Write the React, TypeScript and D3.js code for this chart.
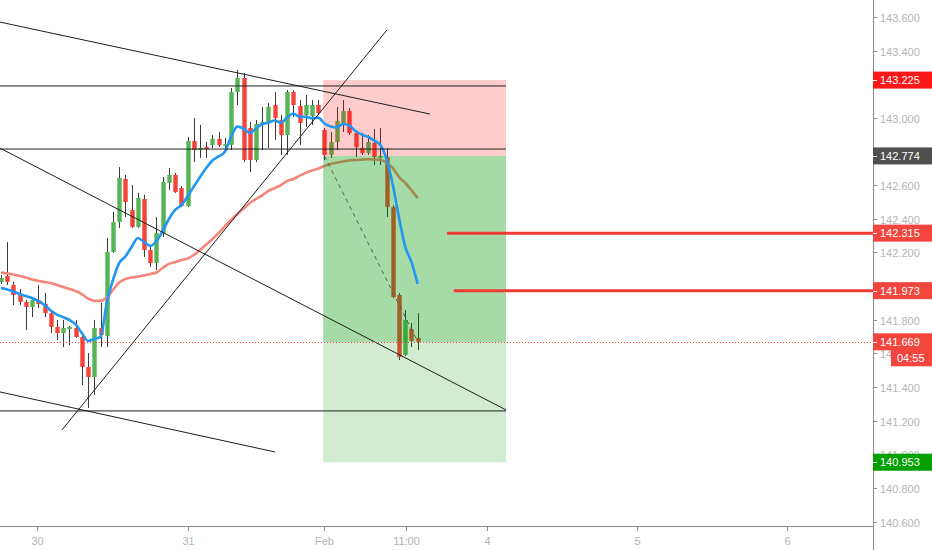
import React from 'react';
import * as d3 from 'd3';

const W = 932;
const H = 550;

// Hourly candles (price)
const opens = [142.025,142.060,142.007,141.947,141.906,141.876,141.918,141.894,141.840,141.757,141.721,141.745,141.751,141.698,141.519,141.460,141.751,141.704,142.203,142.381,142.637,142.453,142.352,142.518,142.215,142.137,142.316,142.613,142.661,142.583,142.476,142.863,142.809,142.827,142.839,142.875,142.833,142.839,143.154,143.237,142.940,142.750,142.958,142.976,143.077,142.988,142.898,143.154,143.071,143.017,143.011,143.077,142.928,142.780,142.857,142.964,143.041,142.910,142.821,142.791,142.851,142.762,142.768,142.470,141.947,141.591,141.745,141.692];
const highs = [142.066,142.262,142.025,141.983,141.918,141.935,142.007,141.959,141.858,141.799,141.799,141.763,141.799,141.709,141.602,141.799,141.900,142.286,142.441,142.708,142.661,142.601,142.554,142.542,142.245,142.411,142.649,142.702,142.673,142.595,142.887,142.999,142.958,142.857,142.898,142.916,142.881,143.178,143.285,143.267,142.976,142.988,143.065,143.089,143.154,143.017,143.166,143.166,143.106,143.136,143.106,143.106,142.940,142.916,143.065,143.106,143.059,142.928,142.910,142.898,142.934,142.940,142.821,142.482,141.959,141.858,141.781,141.840];
const lows = [142.013,142.007,141.888,141.888,141.739,141.816,141.870,141.816,141.721,141.680,141.638,141.650,141.692,141.412,141.275,141.353,141.638,141.638,142.197,142.346,142.411,142.346,142.346,142.173,142.114,142.096,142.292,142.571,142.554,142.470,142.470,142.738,142.762,142.762,142.821,142.827,142.809,142.809,143.077,142.738,142.679,142.738,142.809,142.821,142.869,142.780,142.780,143.005,142.839,142.946,142.958,143.017,142.750,142.762,142.809,142.916,142.898,142.768,142.780,142.780,142.720,142.720,142.411,141.929,141.561,141.585,141.638,141.620];
const closes = [142.048,142.025,141.947,141.906,141.876,141.918,141.894,141.840,141.757,141.721,141.751,141.757,141.698,141.519,141.460,141.751,141.709,142.203,142.381,142.643,142.500,142.352,142.524,142.215,142.137,142.316,142.619,142.661,142.560,142.476,142.863,142.809,142.821,142.815,142.875,142.839,142.845,143.154,143.237,142.750,142.750,142.964,142.976,143.065,142.999,142.898,143.154,143.077,142.970,143.077,143.077,143.029,142.780,142.857,142.982,143.041,142.910,142.827,142.791,142.857,142.768,142.774,142.470,141.935,141.579,141.799,141.674,141.669];

// Moving averages
const fastMA = [141.989,141.980,141.968,141.953,141.941,141.929,141.912,141.888,141.855,141.831,141.816,141.799,141.772,141.721,141.674,141.686,141.698,141.900,142.036,142.137,142.176,142.233,142.286,142.262,142.239,142.268,142.328,142.399,142.453,142.482,142.533,142.592,142.649,142.702,142.747,142.771,142.799,142.889,142.948,142.937,142.910,142.937,142.964,142.971,142.985,142.970,143.002,143.026,143.007,143.007,142.998,143.002,142.967,142.949,142.943,142.964,142.955,142.922,142.901,142.888,142.866,142.839,142.753,142.601,142.405,142.233,142.143,142.013];
const slowMA = [142.080,142.075,142.069,142.060,142.051,142.039,142.031,142.025,142.019,142.007,141.995,141.983,141.971,141.953,141.926,141.912,141.912,141.932,141.977,142.022,142.042,142.051,142.057,142.063,142.072,142.081,142.108,142.132,142.143,142.155,142.164,142.185,142.215,142.247,142.280,142.316,142.357,142.393,142.429,142.461,142.494,142.518,142.539,142.566,142.583,142.601,142.625,142.637,142.655,142.673,142.687,142.699,142.714,142.726,142.734,142.741,142.747,142.750,142.752,142.754,142.753,142.751,142.733,142.702,142.649,142.613,142.571,142.524];

// Axes
const priceTicks = [140.6, 140.8, 141.0, 141.2, 141.4, 141.6, 141.8, 142.0, 142.2, 142.4, 142.6, 142.8, 143.0, 143.2, 143.4, 143.6];
const timeLabels = ['30', '31', 'Feb', '11:00', '4', '5', '6'];
const timeLabelIdx = [5.8, 30.1, 51.9, 65.1, 78.1, 102.2, 126.4];

// Drawings: [idx1, price1, idx2, price2]
const trendLines = [
  [-0.2, 143.570, 68.97, 143.023],
  [-0.2, 143.190, 81.2, 143.190],
  [-0.2, 142.815, 81.2, 142.815],
  [-0.2, 142.821, 81.2, 141.264],
  [-0.2, 141.258, 81.2, 141.258],
  [-0.2, 141.371, 44.05, 141.014],
  [9.81, 141.145, 62.06, 143.523],
];
const rayPrices = [142.315, 141.973];
const rayStartIdx = [71.7, 72.8];

// Position tool
const posStartIdx = 51.8;
const posEndIdx = 81.2;
const entryIdx = 52;
const lastIdx = 67;
const stopPrice = 143.225;
const entryPrice = 142.774;
const targetPrice = 140.953;
const currentPrice = 141.669;
const countdown = '04:55';

const axisBoxes = [
  { price: stopPrice, color: '#ff1616' },
  { price: entryPrice, color: '#505050' },
  { price: rayPrices[0], color: '#f2453d' },
  { price: rayPrices[1], color: '#f2453d' },
  { price: currentPrice, color: '#f2453d' },
  { price: targetPrice, color: '#00a000' },
];

const UP = '#55b455';
const DOWN = '#f4433a';
const FONT = '"Liberation Sans", Arial, sans-serif';

export default function App() {
  const plotRight = 873;
  const plotBottom = 526;
  const x = d3.scaleLinear().domain([0, 67]).range([1, 417.7]);
  const y = d3.scaleLinear().domain([140.6, 143.6]).range([521.6, 17]);
  const fmt = d3.format('.3f');

  const maLine = d3
    .line<number>()
    .x((_, i) => x(i))
    .y((d) => y(d))
    .curve(d3.curveMonotoneX);

  const bodyW = 4.4;

  const candles = opens.map((o, i) => {
    const c = closes[i];
    const up = c >= o;
    const cx = Math.round(x(i)) + 0.5;
    const top = y(Math.max(o, c));
    const bot = y(Math.min(o, c));
    return (
      <g key={i}>
        <line x1={cx} x2={cx} y1={y(highs[i])} y2={y(lows[i])} stroke="#3a3a3a" strokeWidth={1} />
        <rect
          x={cx - bodyW / 2}
          y={top}
          width={bodyW}
          height={Math.max(1, bot - top)}
          fill={up ? UP : DOWN}
        />
      </g>
    );
  });

  const px0 = x(posStartIdx);
  const px1 = x(posEndIdx);

  // tick labels fully covered by a price box are not drawn (hidden in the reference)
  const hiddenTick = (p: number) => axisBoxes.some((b) => Math.abs(y(b.price) - y(p)) < 5.5);

  return (
    <svg
      width={W}
      height={H}
      style={{ position: 'absolute', left: 0, top: 0, display: 'block', background: '#fff' }}
      fontFamily={FONT}
    >
      <defs>
        <clipPath id="plot">
          <rect x={0} y={0} width={plotRight} height={plotBottom} />
        </clipPath>
      </defs>
      <rect x={0} y={0} width={W} height={H} fill="#fff" />
      <g clipPath="url(#plot)">
        {candles}
        <path d={maLine(slowMA) || ''} fill="none" stroke="#f7857a" strokeWidth={2.6} strokeLinejoin="round" />
        {/* position tool */}
        <rect x={px0} y={y(stopPrice)} width={px1 - px0} height={y(entryPrice) - y(stopPrice)} fill="rgba(255,0,0,0.2)" />
        <rect x={px0} y={y(entryPrice)} width={px1 - px0} height={y(currentPrice) - y(entryPrice)} fill="rgba(0,150,0,0.35)" />
        <rect x={px0} y={y(currentPrice)} width={px1 - px0} height={y(targetPrice) - y(currentPrice)} fill="rgba(0,150,0,0.18)" />
        <line
          x1={x(entryIdx)}
          y1={y(entryPrice)}
          x2={x(lastIdx)}
          y2={y(currentPrice)}
          stroke="#5a5a5a"
          strokeWidth={1}
          strokeDasharray="4 4"
        />
        <path d={maLine(fastMA) || ''} fill="none" stroke="#2196f3" strokeWidth={2.6} strokeLinejoin="round" />
        {trendLines.map((t, i) => (
          <line key={i} x1={x(t[0])} y1={y(t[1])} x2={x(t[2])} y2={y(t[3])} stroke="#1e1e1e" strokeWidth={1} />
        ))}
        {rayPrices.map((p, i) => (
          <line key={i} x1={x(rayStartIdx[i])} x2={plotRight} y1={y(p)} y2={y(p)} stroke="#ef3b36" strokeWidth={3} />
        ))}
        <line
          x1={0}
          x2={plotRight}
          y1={Math.round(y(currentPrice)) + 0.5}
          y2={Math.round(y(currentPrice)) + 0.5}
          stroke="#f2453d"
          strokeWidth={1}
          strokeDasharray="1 2"
        />
      </g>

      {/* time axis */}
      <line x1={0} x2={plotRight} y1={plotBottom + 0.5} y2={plotBottom + 0.5} stroke="#8a8a8a" strokeWidth={1} />
      {timeLabels.map((t, i) => {
        const tx = Math.round(x(timeLabelIdx[i])) + 0.5;
        return (
          <g key={t}>
            <line x1={tx} x2={tx} y1={plotBottom + 1} y2={plotBottom + 5} stroke="#8a8a8a" />
            <text x={tx} y={545} textAnchor="middle" fontSize={11} fill="#b4b4b4">
              {t}
            </text>
          </g>
        );
      })}

      {/* price axis */}
      <line x1={plotRight + 0.5} x2={plotRight + 0.5} y1={0} y2={H} stroke="#8a8a8a" strokeWidth={1} />
      {priceTicks.map((p) => {
        const ty = Math.round(y(p)) + 0.5;
        return (
          <g key={p}>
            <line x1={plotRight} x2={plotRight + 4} y1={ty} y2={ty} stroke="#8a8a8a" />
            {!hiddenTick(p) && (
              <text x={880} y={ty + 4} fontSize={11} fill="#b4b4b4">
                {fmt(p)}
              </text>
            )}
          </g>
        );
      })}
      {axisBoxes.map((b) => {
        const by = y(b.price);
        return (
          <g key={b.price}>
            <rect x={plotRight} y={by - 8.5} width={W - plotRight} height={17} fill={b.color} />
            <line x1={plotRight} x2={plotRight + 4} y1={Math.round(by) + 0.5} y2={Math.round(by) + 0.5} stroke="#fff" />
            <text x={880} y={by + 4} fontSize={11} fill="#fff">
              {fmt(b.price)}
            </text>
          </g>
        );
      })}
      <rect x={891} y={y(currentPrice) + 7.5} width={W - 891} height={17} fill="#f2453d" />
      <text x={897} y={y(currentPrice) + 20} fontSize={11} fill="#fff">
        {countdown}
      </text>
    </svg>
  );
}
